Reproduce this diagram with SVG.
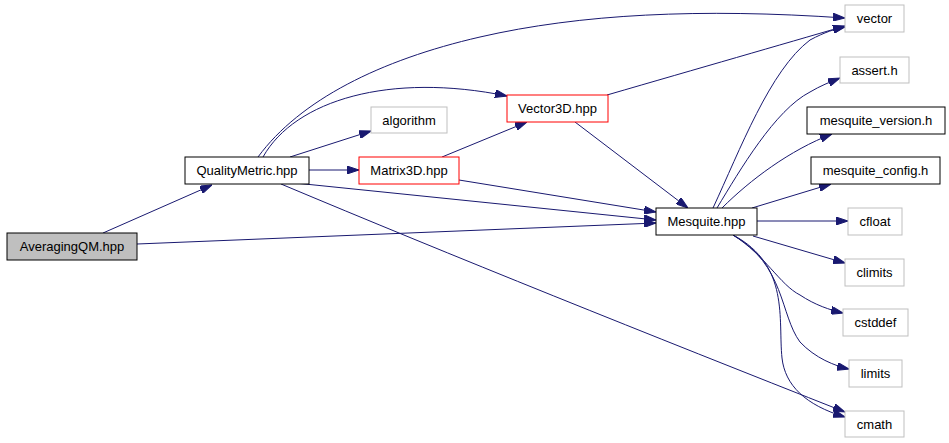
<svg xmlns="http://www.w3.org/2000/svg" width="949" height="443" viewBox="0 0 949 443">
<style>
.n rect{fill:#fff;stroke:#000;stroke-width:1}
.n.g rect{stroke:#bfbfbf}
.n.r rect{stroke:#ff0000}
.n.f rect{fill:#bfbfbf}
.n text{font-family:"Liberation Sans",Arial,sans-serif;font-size:13px;fill:#000;text-anchor:middle}
#edges path{fill:none;stroke:#191970;stroke-width:1;marker-end:url(#a)}
</style>
<defs>
<marker id="a" markerWidth="12" markerHeight="8" refX="12" refY="4" orient="auto" markerUnits="userSpaceOnUse">
<path d="M0,0 L12,4 L0,8 z" fill="#191970" stroke="#191970" stroke-width="1"/>
</marker>
</defs>
<rect width="949" height="443" fill="#fff"/>
<g id="edges">
<path d="M103,233 L212,185"/>
<path d="M137,244 L656,223"/>
<path d="M258,157 C300,100 380,60 480,37 S700,8 845,18"/>
<path d="M263,157 C295,100 390,72 507,96"/>
<path d="M290,157 L371,131"/>
<path d="M309,170 L359,170"/>
<path d="M295,183 L656,220"/>
<path d="M281,184 C450,255 650,335 845,412"/>
<path d="M442,157 L527,122"/>
<path d="M459,180 L656,212"/>
<path d="M607,95 C700,68 780,45 845,26"/>
<path d="M575,122 L688,208"/>
<path d="M713,208 C740,150 770,70 810,40 C825,32 835,29 845,27"/>
<path d="M717,208 C740,170 775,110 810,92 C820,86 830,82 840,78"/>
<path d="M722,208 C750,180 790,150 832,134"/>
<path d="M752,208 L831,184"/>
<path d="M757,221 L848,221"/>
<path d="M753,236 L845,263"/>
<path d="M733,235 C765,255 780,285 800,295 C815,305 830,310 843,313"/>
<path d="M733,235 C785,265 780,315 800,342 C815,358 835,366 849,369"/>
<path d="M733,235 C790,265 778,320 782,358 C785,385 805,405 845,417"/>
</g>
<g id="AveragingQM" class="n f"><rect x="7" y="233" width="130" height="27"/><text x="72" y="251">AveragingQM.hpp</text></g>
<g id="QualityMetric" class="n"><rect x="185" y="157" width="124" height="27"/><text x="247" y="175">QualityMetric.hpp</text></g>
<g id="algorithm" class="n g"><rect x="371" y="107" width="76" height="26"/><text x="409" y="125">algorithm</text></g>
<g id="Vector3D" class="n r"><rect x="507" y="95" width="101" height="27"/><text x="557.5" y="113">Vector3D.hpp</text></g>
<g id="Matrix3D" class="n r"><rect x="359" y="157" width="100" height="27"/><text x="409" y="175">Matrix3D.hpp</text></g>
<g id="Mesquite" class="n"><rect x="656" y="208" width="101" height="27"/><text x="706.5" y="226">Mesquite.hpp</text></g>
<g id="vector" class="n g"><rect x="845" y="5" width="59" height="27"/><text x="874.5" y="23">vector</text></g>
<g id="assert" class="n g"><rect x="840" y="57" width="69" height="26"/><text x="874.5" y="75">assert.h</text></g>
<g id="mesquite_version" class="n"><rect x="807" y="107" width="138" height="27"/><text x="876" y="125">mesquite_version.h</text></g>
<g id="mesquite_config" class="n"><rect x="811" y="157" width="129" height="27"/><text x="875.5" y="175">mesquite_config.h</text></g>
<g id="cfloat" class="n g"><rect x="848" y="208" width="54" height="27"/><text x="875" y="226">cfloat</text></g>
<g id="climits" class="n g"><rect x="845" y="259" width="59" height="27"/><text x="874.5" y="277">climits</text></g>
<g id="cstddef" class="n g"><rect x="843" y="309" width="65" height="27"/><text x="875.5" y="327">cstddef</text></g>
<g id="limits" class="n g"><rect x="849" y="360" width="53" height="27"/><text x="875.5" y="378">limits</text></g>
<g id="cmath" class="n g"><rect x="845" y="411" width="59" height="26"/><text x="874.5" y="429">cmath</text></g>
</svg>
